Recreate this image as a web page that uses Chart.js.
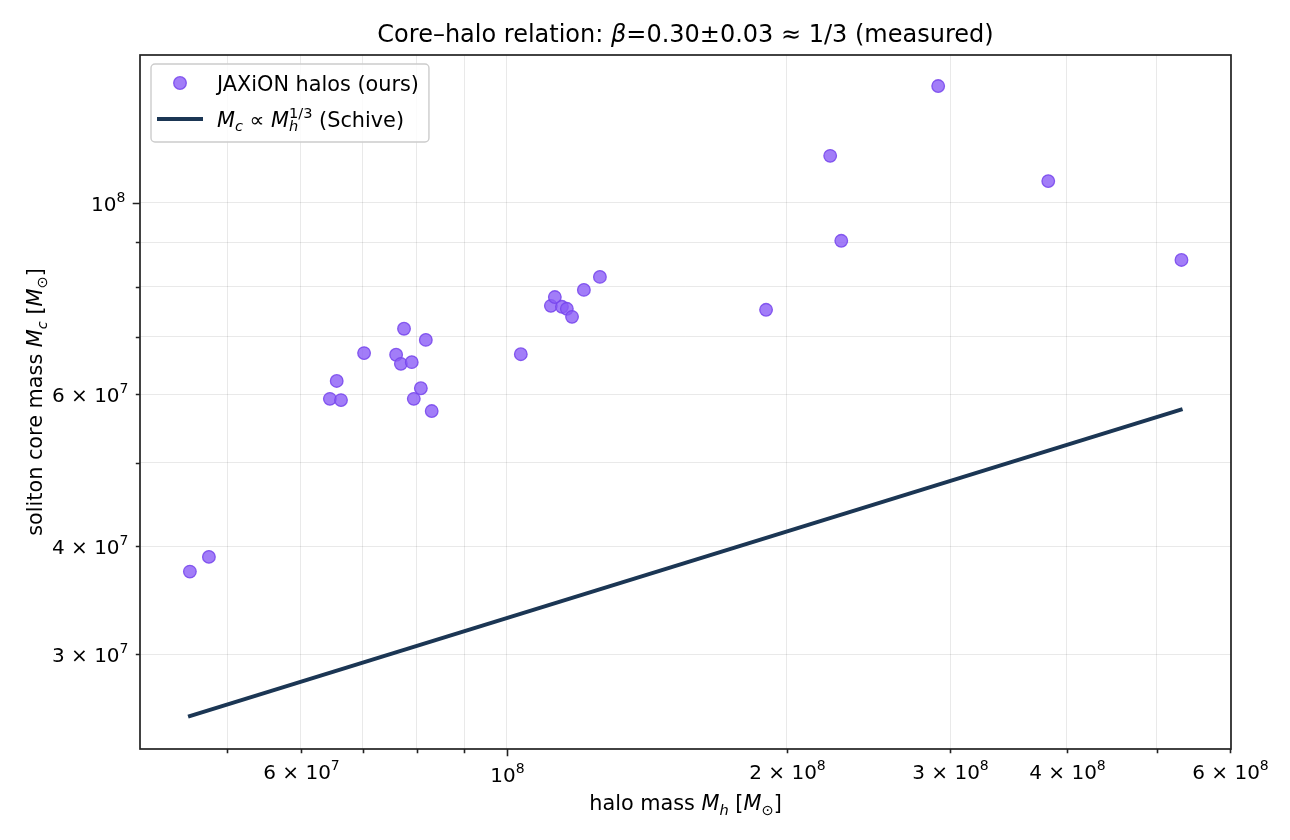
<!DOCTYPE html>
<html>
<head>
<meta charset="utf-8">
<script src="https://cdn.jsdelivr.net/npm/chart.js@4.4.1/dist/chart.umd.min.js"></script>
<style>
  html, body { margin: 0; padding: 0; background: #fff; }
  #wrap { width: 1290px; height: 840px; }
</style>
</head>
<body>
<div id="wrap"><canvas id="coreChart" width="1290" height="840"></canvas></div>
<script>
// halo mass and measured soliton core mass, in solar masses
const haloMass = [4.56e7, 4.78e7, 6.45e7, 6.56e7, 6.63e7, 7.02e7, 7.60e7, 7.69e7, 7.75e7, 7.90e7,
                  7.94e7, 8.08e7, 8.18e7, 8.30e7, 1.035e8, 1.115e8, 1.126e8, 1.146e8, 1.160e8, 1.175e8,
                  1.210e8, 1.259e8, 1.900e8, 2.227e8, 2.289e8, 2.910e8, 3.822e8, 5.316e8];
const coreMass = [3.74e7, 3.89e7, 5.93e7, 6.22e7, 5.91e7, 6.70e7, 6.67e7, 6.51e7, 7.15e7, 6.54e7,
                  5.93e7, 6.10e7, 6.94e7, 5.74e7, 6.68e7, 7.60e7, 7.78e7, 7.58e7, 7.54e7, 7.38e7,
                  7.93e7, 8.21e7, 7.52e7, 1.134e8, 9.04e7, 1.366e8, 1.060e8, 8.59e7];

// Schive Mc ∝ Mh^(1/3) line, read at its two ends
const schiveHalo = [4.54e7, 5.33e8];
const schiveCore = [2.54e7, 5.77e7];

// ticks (1e8 is the only major one on both axes), '^' marks the exponent
const xTicks = [5e7, 6e7, 7e7, 8e7, 9e7, 1e8, 2e8, 3e8, 4e8, 5e8, 6e8];
const xTickLabels = ['', '6 × 10^7', '', '', '', '10^8', '2 × 10^8', '3 × 10^8', '4 × 10^8', '', '6 × 10^8'];
const yTicks = [3e7, 4e7, 5e7, 6e7, 7e7, 8e7, 9e7, 1e8];
const yTickLabels = ['3 × 10^7', '4 × 10^7', '', '6 × 10^7', '', '', '', '10^8'];
const majorTicks = [1e8];

const FONT = '"DejaVu Sans"';
const INK = '#222222';
const FS = 20.8;
const TICK_FS = 20;

// --- small helper for matplotlib style math text (italic, sub, sup) ---
function segFont(seg, size) {
    const sz = seg.s ? size * 0.7 : size;
    return (seg.i ? 'italic ' : '') + sz.toFixed(1) + 'px ' + FONT;
}

function layoutRich(ctx, segs, size) {
    let x = 0, hold = 0;
    const items = [];
    segs.forEach(seg => {
        ctx.font = segFont(seg, size);
        const w = ctx.measureText(seg.t).width;
        const dy = seg.s === 'sub' ? size * 0.22 : (seg.s === 'sup' ? -size * 0.42 : 0);
        items.push({ t: seg.t, x: x, dy: dy, font: ctx.font });
        if (seg.k) {
            hold = w; // stacked sub/sup: next piece starts at same x
        } else {
            x += Math.max(w, hold);
            hold = 0;
        }
    });
    return { items: items, width: x };
}

function drawRich(ctx, segs, x, y, size, align) {
    const lay = layoutRich(ctx, segs, size);
    let x0 = x;
    if (align === 'center') x0 = x - lay.width / 2;
    if (align === 'right') x0 = x - lay.width;
    ctx.fillStyle = '#000';
    ctx.textAlign = 'left';
    ctx.textBaseline = 'alphabetic';
    lay.items.forEach(it => {
        ctx.font = it.font;
        ctx.fillText(it.t, x0 + it.x, y + it.dy);
    });
    return lay.width;
}

// '6 × 10^7' -> base text + superscript exponent
function tickSegs(label) {
    const parts = label.split('^');
    return [{ t: parts[0] }, { t: parts[1], s: 'sup' }];
}

const titleSegs = [{ t: 'Core–halo relation: ' }, { t: 'β', i: true }, { t: '=0.30±0.03 ≈ 1/3 (measured)' }];
const xLabelSegs = [{ t: 'halo mass ' }, { t: 'M', i: true }, { t: 'h', i: true, s: 'sub' },
                    { t: ' [' }, { t: 'M', i: true }, { t: '⊙', s: 'sub' }, { t: ']' }];
const yLabelSegs = [{ t: 'soliton core mass ' }, { t: 'M', i: true }, { t: 'c', i: true, s: 'sub' },
                    { t: ' [' }, { t: 'M', i: true }, { t: '⊙', s: 'sub' }, { t: ']' }];
const legendHaloSegs = [{ t: 'JAXiON halos (ours)' }];
const legendSchiveSegs = [{ t: 'M', i: true }, { t: 'c', i: true, s: 'sub' }, { t: ' ∝ ' },
                          { t: 'M', i: true }, { t: 'h', i: true, s: 'sub', k: true },
                          { t: '1/3', s: 'sup' }, { t: ' (Schive)' }];

// frame, tick marks + labels, title, axis labels and legend
const decorPlugin = {
    id: 'decor',
    afterDraw(chart) {
        const ctx = chart.ctx;
        const area = chart.chartArea;
        const xs = chart.scales.x, ys = chart.scales.y;
        ctx.save();

        // tick marks and tick labels
        ctx.strokeStyle = INK;
        ctx.lineWidth = 1.6;
        ctx.beginPath();
        xTicks.forEach((v, i) => {
            const px = Math.round(xs.getPixelForValue(v)) + 0.5;
            const len = majorTicks.includes(v) ? 7.3 : 4.2;
            ctx.moveTo(px, area.bottom);
            ctx.lineTo(px, area.bottom + len);
            if (xTickLabels[i]) {
                drawRich(ctx, tickSegs(xTickLabels[i]), px, area.bottom + len + 7.3 + 18, TICK_FS, 'center');
            }
        });
        yTicks.forEach((v, i) => {
            const py = Math.round(ys.getPixelForValue(v)) + 0.5;
            const len = majorTicks.includes(v) ? 7.3 : 4.2;
            ctx.moveTo(area.left, py);
            ctx.lineTo(area.left - len, py);
            if (yTickLabels[i]) {
                drawRich(ctx, tickSegs(yTickLabels[i]), area.left - len - 7.3, py + 7.3, TICK_FS, 'right');
            }
        });
        ctx.strokeStyle = INK;
        ctx.stroke();

        // spines
        ctx.lineWidth = 1.7;
        ctx.strokeRect(area.left, area.top, area.right - area.left, area.bottom - area.top);

        // title and axis labels
        const cx = (area.left + area.right) / 2;
        drawRich(ctx, titleSegs, cx, 42, 24, 'center');
        drawRich(ctx, xLabelSegs, cx, 810, FS, 'center');
        ctx.save();
        ctx.translate(42, (area.top + area.bottom) / 2);
        ctx.rotate(-Math.PI / 2);
        drawRich(ctx, yLabelSegs, 0, 0, FS, 'center');
        ctx.restore();

        // legend box
        const lx = area.left + 11, ly = area.top + 9;
        const w1 = layoutRich(ctx, legendHaloSegs, FS).width;
        const w2 = layoutRich(ctx, legendSchiveSegs, FS).width;
        const bw = 66 + Math.max(w1, w2) + 10, bh = 78;
        ctx.beginPath();
        ctx.roundRect(lx, ly, bw, bh, 4);
        ctx.fillStyle = 'rgba(255,255,255,0.8)';
        ctx.fill();
        ctx.strokeStyle = '#cccccc';
        ctx.lineWidth = 1.4;
        ctx.stroke();

        const halo = chart.data.datasets[0], schive = chart.data.datasets[1];
        ctx.beginPath();
        ctx.arc(lx + 29, ly + 19, 6.3, 0, Math.PI * 2);
        ctx.fillStyle = halo.backgroundColor;
        ctx.fill();
        ctx.strokeStyle = halo.borderColor;
        ctx.lineWidth = halo.borderWidth;
        ctx.stroke();

        ctx.beginPath();
        ctx.moveTo(lx + 6, ly + 55);
        ctx.lineTo(lx + 52, ly + 55);
        ctx.strokeStyle = schive.borderColor;
        ctx.lineWidth = schive.borderWidth;
        ctx.stroke();

        drawRich(ctx, legendHaloSegs, lx + 66, ly + 26.5, FS, 'left');
        drawRich(ctx, legendSchiveSegs, lx + 66, ly + 62.5, FS, 'left');

        ctx.restore();
    }
};

const gridStyle = { color: 'rgba(0,0,0,0.085)', lineWidth: 1, drawTicks: false };

new Chart(document.getElementById('coreChart'), {
    type: 'scatter',
    data: {
        datasets: [{
            label: 'JAXiON halos (ours)',
            data: haloMass.map((m, i) => ({ x: m, y: coreMass[i] })),
            backgroundColor: 'rgba(139,92,246,0.8)',
            borderColor: 'rgba(118,68,236,0.85)',
            borderWidth: 1.3,
            pointRadius: 6.3,
            pointHoverRadius: 6.3
        }, {
            label: 'Mc ∝ Mh^1/3 (Schive)',
            data: schiveHalo.map((m, i) => ({ x: m, y: schiveCore[i] })),
            showLine: true,
            borderColor: '#1b3654',
            borderWidth: 4,
            pointRadius: 0,
            fill: false
        }]
    },
    options: {
        responsive: false,
        animation: false,
        devicePixelRatio: 1,
        layout: { padding: { left: 0, top: 55, right: 59, bottom: 0 } },
        plugins: {
            legend: { display: false },
            tooltip: { enabled: false },
            title: { display: false }
        },
        scales: {
            x: {
                type: 'logarithmic',
                min: 4.03e7,
                max: 6.01e8,
                afterFit: scale => { scale.height = 91; },
                afterBuildTicks: scale => { scale.ticks = xTicks.map(v => ({ value: v })); },
                ticks: { display: false },
                grid: gridStyle,
                border: { display: false }
            },
            y: {
                type: 'logarithmic',
                min: 2.33e7,
                max: 1.484e8,
                afterFit: scale => { scale.width = 140; },
                afterBuildTicks: scale => { scale.ticks = yTicks.map(v => ({ value: v })); },
                ticks: { display: false },
                grid: gridStyle,
                border: { display: false }
            }
        }
    },
    plugins: [decorPlugin]
});
</script>
</body>
</html>
